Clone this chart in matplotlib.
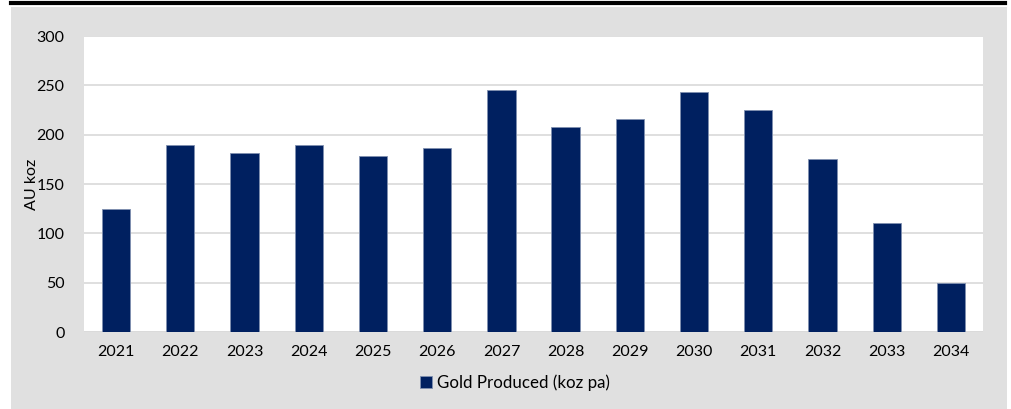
import numpy as np
import matplotlib.pyplot as plt
from matplotlib.patches import Rectangle
from matplotlib.lines import Line2D

# 차트 데이터
years = ['2021', '2022', '2023', '2024', '2025', '2026', '2027',
         '2028', '2029', '2030', '2031', '2032', '2033', '2034']
gold_koz = [125, 190, 181, 190, 178, 186, 245, 208, 216, 243, 225, 175, 110, 50]
yticks = [0, 50, 100, 150, 200, 250, 300]

plt.rcParams['font.family'] = ['Lato', 'DejaVu Sans']

W, H = 1011, 409
fig = plt.figure(figsize=(W / 100, H / 100), dpi=100)
fig.patch.set_facecolor('white')

# 회색 배경 패널과 상단 검은 선
fig.add_artist(Rectangle((11 / W, 0), (1007 - 11) / W, (H - 7) / H,
                         transform=fig.transFigure, facecolor='#e0e0e0',
                         edgecolor='none', zorder=0))
fig.add_artist(Line2D([11 / W, 1005 / W], [1 - 3 / H, 1 - 3 / H],
                      transform=fig.transFigure, color='black', lw=3))

ax = fig.add_axes([84 / W, 1 - 332 / H, (983 - 84) / W, (332 - 36) / H])
ax.set_facecolor('white')
x = np.arange(len(years))
ax.bar(x, gold_koz, width=0.44, color='#002060', edgecolor='#8090b0',
       linewidth=0.6, label='Gold Produced (koz pa)', zorder=3)

ax.set_xlim(-0.5, len(years) - 0.5)
ax.set_ylim(0, 300)
ax.set_yticks(yticks)
ax.set_xticks(x)
ax.set_xticklabels(years)
ax.yaxis.grid(True, color='#d9d9d9', lw=1.2, zorder=0)
for s in ax.spines.values():
    s.set_visible(False)
ax.axhline(0, color='#d9d9d9', lw=1.2, zorder=2)
ax.tick_params(length=0, labelsize=11.5, colors='black')
ax.tick_params(axis='y', pad=14)
ax.tick_params(axis='x', pad=9)
ax.set_ylabel('AU koz', fontsize=11.5, labelpad=-2)

fig.legend(loc='center', bbox_to_anchor=(515 / W, 1 - 383 / H), frameon=False,
           fontsize=12.2, handlelength=0.7, handleheight=0.7, handletextpad=0.3)

fig.savefig('out.png', dpi=100)
